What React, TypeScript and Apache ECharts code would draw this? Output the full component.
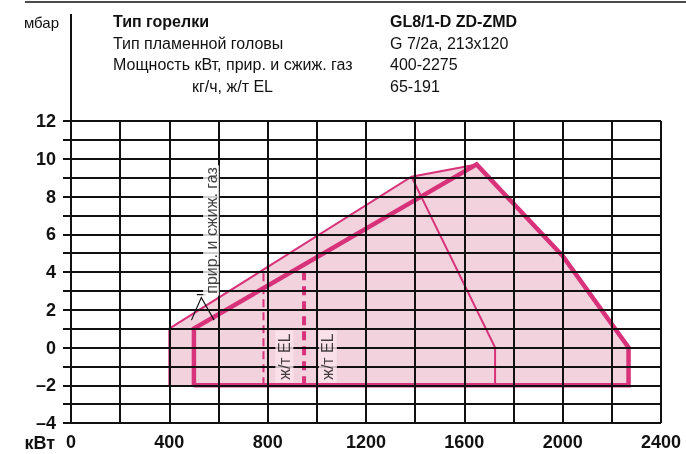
import React, { useEffect, useRef } from "react";
import * as echarts from "echarts";

// ---- data ----
const xTicks = [0, 400, 800, 1200, 1600, 2000, 2400];
const yTicks = [-4, -2, 0, 2, 4, 6, 8, 10, 12];
const fillArea = [
  [400, -2], [400, 1], [1385, 9.05], [1650, 9.7], [2000, 4.85], [2268, 0], [2268, -2],
];
const gasOuterLine = [[400, -2], [400, 1], [1385, 9.05], [1650, 9.7]];
const gasInnerLine = [[1385, 9.05], [1725, 0], [1725, -2]];
const oilLine = [[500, -2], [500, 1], [1650, 9.7], [2000, 4.85], [2268, 0], [2268, -2], [500, -2]];
const gasMinDashed = [[783, -2], [783, 4.1]];
const oilMinDashed = [[948, -2], [948, 4.4]];
const leaderLines = [[490, 1.45], [530, 2.65], [582, 1.45]];
const leaderBar = [[512, 2.8], [548, 2.8]];
const elLabels = [[868, -0.48], [1045, -0.48]];
const gasLabel = [[570, 6.2]];
const headerLeft = ["Тип горелки", "Тип пламенной головы", "Мощность кВт, прир. и сжиж. газ", "кг/ч, ж/т EL"];
const headerRight = ["GL8/1-D ZD-ZMD", "G 7/2a, 213x120", "400-2275", "65-191"];

const PINK = "#d8327a";
const FILL = "#f2d3dd";
const FONT = "Liberation Sans, Arial, sans-serif";

export default function App() {
  const ref = useRef<HTMLDivElement>(null);
  useEffect(() => {
    document.body.style.margin = "0";
    const chart = echarts.init(ref.current!, undefined, { renderer: "svg" });
    const gridLeft = 71, gridRight = 25, gridTop = 121, gridBottom = 31;
    const headerY = [21, 43, 64, 86];
    const graphic: any[] = [
      { type: "line", shape: { x1: 25, y1: 2, x2: 686, y2: 2 }, style: { stroke: "#111", lineWidth: 1.5 }, z: 10 },
      { type: "line", shape: { x1: gridLeft, y1: 14, x2: gridLeft, y2: gridTop }, style: { stroke: "#111", lineWidth: 2 }, z: 10 },
      { type: "text", x: 59, y: 22, style: { text: "мбар", font: `15px ${FONT}`, fill: "#111", align: "right", verticalAlign: "middle" }, z: 10 },
      { type: "text", x: 55, y: 443, style: { text: "кВт", font: `bold 18px ${FONT}`, fill: "#111", align: "right", verticalAlign: "middle" }, z: 10 },
    ];
    headerLeft.forEach((t, i) => {
      graphic.push({
        type: "text", x: i === 3 ? 192 : 113, y: headerY[i],
        style: { text: t, font: `${i === 0 ? "bold " : ""}16px ${FONT}`, fill: "#111", verticalAlign: "middle" }, z: 10,
      });
    });
    headerRight.forEach((t, i) => {
      graphic.push({
        type: "text", x: 390, y: headerY[i],
        style: { text: t, font: `${i === 0 ? "bold " : ""}16px ${FONT}`, fill: "#111", verticalAlign: "middle" }, z: 10,
      });
    });

    const lineSeries = (data: number[][], width: number, color: string, dash?: number[], z = 2) => ({
      type: "line", data, symbol: "none", z, silent: true,
      lineStyle: { color, width, type: dash ? dash : "solid", cap: "butt", join: "miter" },
    });

    chart.setOption({
      animation: false,
      grid: { left: gridLeft, right: gridRight, top: gridTop, bottom: gridBottom },
      xAxis: {
        type: "value", min: 0, max: 2400, interval: 200, z: 5,
        axisLine: { show: true, lineStyle: { color: "#111", width: 2 } },
        axisTick: { show: true, length: 6, lineStyle: { color: "#111", width: 2 } },
        splitLine: { show: true, lineStyle: { color: "#111", width: 2 } },
        axisLabel: {
          margin: 10, color: "#111", fontFamily: FONT, fontWeight: "bold", fontSize: 18,
          formatter: (v: number) => (xTicks.includes(v) ? String(v) : ""),
        },
      },
      yAxis: {
        type: "value", min: -4, max: 12, interval: 1, z: 5,
        axisLine: { show: true, lineStyle: { color: "#111", width: 2 } },
        axisTick: { show: true, length: 8, lineStyle: { color: "#111", width: 2 } },
        splitLine: { show: true, lineStyle: { color: "#111", width: 2 } },
        axisLabel: {
          margin: 15, color: "#111", fontFamily: FONT, fontWeight: "bold", fontSize: 18,
          formatter: (v: number) => (yTicks.includes(v) ? (v < 0 ? "–" + -v : String(v)) : ""),
        },
      },
      graphic,
      series: [
        {
          type: "custom", z: 1, silent: true,
          renderItem: (params: any, api: any) => {
            if (params.dataIndex !== 0) return null;
            const pts = fillArea.map((p) => api.coord(p));
            return { type: "polygon", shape: { points: pts }, style: { fill: FILL } };
          },
          data: [0],
        },
        lineSeries(gasOuterLine, 2, PINK),
        lineSeries(gasInnerLine, 2, PINK),
        lineSeries(oilLine, 4.5, PINK),
        lineSeries(gasMinDashed, 2, PINK, [8, 5]),
        lineSeries(oilMinDashed, 4, PINK, [9, 6]),
        lineSeries(leaderLines, 1.2, "#111", undefined, 8),
        lineSeries(leaderBar, 1.2, "#111", undefined, 8),
        {
          type: "scatter", data: elLabels, symbolSize: 0, z: 10, silent: true,
          label: {
            show: true, position: "inside", rotate: 90, formatter: "ж/т EL",
            fontFamily: FONT, fontSize: 16, color: "#111", backgroundColor: "#fbe4ec", padding: [1, 3],
          },
        },
        {
          type: "scatter", data: gasLabel, symbolSize: 0, z: 10, silent: true,
          label: {
            show: true, position: "inside", rotate: 90, formatter: "прир. и сжиж. газ",
            fontFamily: FONT, fontSize: 16, color: "#111", backgroundColor: "#fff", padding: [0, 2],
          },
        },
      ],
    });
    return () => chart.dispose();
  }, []);
  return <div ref={ref} style={{ position: "fixed", left: 0, top: 0, width: 686, height: 454 }} />;
}
